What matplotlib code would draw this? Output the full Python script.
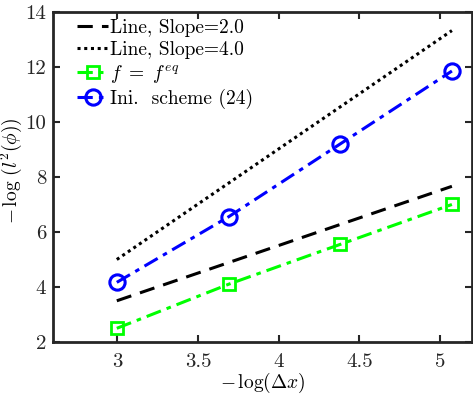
import numpy as np
import matplotlib
matplotlib.use("Agg")
import matplotlib.pyplot as plt

plt.rcParams['mathtext.fontset'] = 'cm'
plt.rcParams['font.family'] = 'cmr10'
plt.rcParams['axes.unicode_minus'] = False
plt.rcParams['axes.formatter.use_mathtext'] = True

x = [2.996, 3.689, 4.382, 5.075]
line2_x = [2.996, 5.075]
line2_y = [3.5, 7.66]
line4_x = [2.996, 5.075]
line4_y = [5.0, 13.32]
feq = [2.5, 4.1, 5.55, 7.0]
ini = [4.17, 6.55, 9.2, 11.85]
xticks = [3, 3.5, 4, 4.5, 5]
yticks = [2, 4, 6, 8, 10, 12, 14]

fig = plt.figure(figsize=(4.73, 3.95), dpi=100)
ax = fig.add_axes([0.112, 0.134, 0.886, 0.836])

ax.plot(line2_x, line2_y, color='k', ls=(0, (5, 3)), lw=2.2, label='Line, Slope=2.0')
ax.plot(line4_x, line4_y, color='k', ls=(0, (1, 1.2)), lw=2.2, label='Line, Slope=4.0')
ax.plot(x, feq, color='#00ff00', ls=(0, (5, 2, 1.5, 2)), lw=2.2, marker='s', ms=9,
        mfc='none', mew=2, label=r'$f\ =\ f^{eq}$')
ax.plot(x, ini, color='#0000ff', ls=(0, (5, 2, 1.5, 2)), lw=2.2, marker='o', ms=11,
        mfc='none', mew=2.2, label='Ini.  scheme (24)')

ax.set_xlim(2.6, 5.2)
ax.set_ylim(2, 14)
ax.set_xticks(xticks)
ax.set_yticks(yticks)
ax.set_xticklabels([f'{t:g}' for t in xticks])
ax.set_yticklabels([f'{t:g}' for t in yticks])
ax.tick_params(direction='in', top=True, right=True, length=5, width=1.5,
               labelsize=15, colors='#262626', pad=5)
ax.tick_params(axis='x', pad=8)
for s in ax.spines.values():
    s.set_linewidth(2)
    s.set_color('#262626')

ax.set_xlabel(r'$-\,\log(\Delta x)$', fontsize=14, labelpad=0)
ax.set_ylabel(r'$-\,\log\,(l^2(\phi))$', fontsize=14)
ax.yaxis.set_label_coords(-0.068, 0.52)

ax.legend(loc='upper left', frameon=False, fontsize=14, handlelength=1.6,
          handletextpad=0.1, labelspacing=0.2, borderaxespad=0.3,
          bbox_to_anchor=(0.025, 1.02))

fig.savefig('out.png', dpi=100)
